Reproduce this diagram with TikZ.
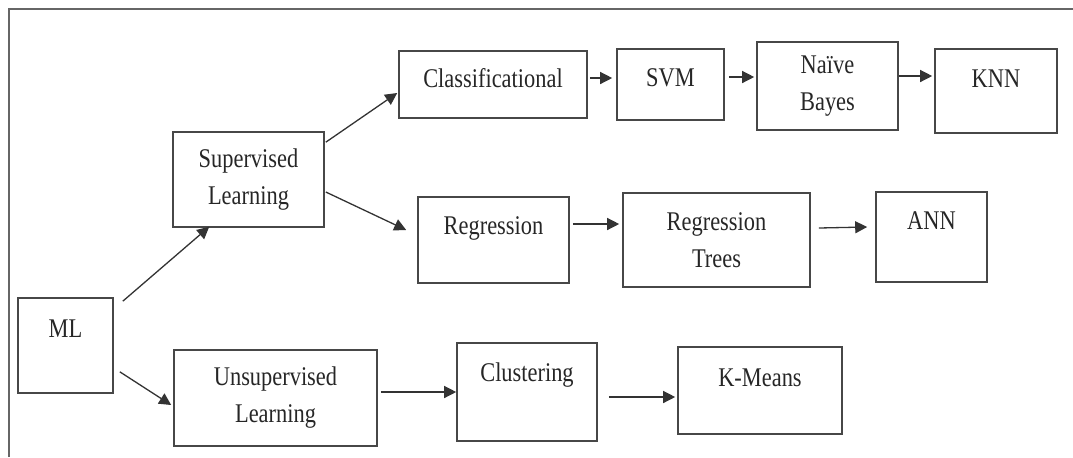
\documentclass[tikz,border=0pt]{standalone}
\usepackage{fontspec}
\setmainfont{Liberation Serif}[FakeStretch=0.83]
\usetikzlibrary{arrows.meta}
\tikzset{
	box/.style={draw=black!72, line width=0.8pt, align=center, inner sep=0pt, text=black!85, font=\fontsize{13.5}{18.5}\selectfont},
	toptext/.style={text height=9pt, text depth=#1pt},
	arr/.style={draw=black!80, line width=0.65pt, -{Triangle[length=6pt, width=6pt]}},
}

\begin{document}
\begin{tikzpicture}[x=0.5pt, y=-0.5pt]
			%%%%% START %%%%%
			\useasboundingbox (0, 0) rectangle (1073, 457);
			
			\draw[line width=1.2pt, color=black!60] (9, 457) -- (9, 9) -- (1073, 9);
			
			\node[box, minimum width=47.5pt, minimum height=47.5pt, toptext=17.5] (ml) at (65.5, 345.5) {ML};
			
			\node[box, minimum width=75.5pt, minimum height=47.5pt] (sup) at (248.5, 179.5) {Supervised\\Learning};
			\node[box, minimum width=101.5pt, minimum height=48pt] (unsup) at (275.5, 398) {Unsupervised\\Learning};
			
			\node[box, minimum width=94pt, minimum height=33.5pt, toptext=6.5] (cls) at (493, 84.5) {Classificational};
			\node[box, minimum width=53.5pt, minimum height=35.5pt, toptext=7.5] (svm) at (670.5, 84.5) {SVM};
			\node[box, minimum width=70.5pt, minimum height=44pt] (nb) at (827.5, 86) {Naïve\\Bayes};
			\node[box, minimum width=61pt, minimum height=42pt, toptext=13] (knn) at (996, 91) {KNN};
			
			\node[box, minimum width=75.5pt, minimum height=43pt, toptext=15] (reg) at (493.5, 240) {Regression};
			\node[box, minimum width=93.5pt, minimum height=47pt] (rt) at (716.5, 240) {Regression\\Trees};
			\node[box, minimum width=55.5pt, minimum height=45pt, toptext=17] (ann) at (931.5, 237) {ANN};
			
			\node[box, minimum width=70pt, minimum height=49pt, toptext=20] (clu) at (527, 392) {Clustering};
			\node[box, minimum width=82pt, minimum height=43.5pt, toptext=13.5] (km) at (760, 390.5) {K-Means};
			
			% from ML
			\draw[arr] ([shift={(9, 4)}]ml.north east) -- ([shift={(37, -1)}]sup.south west);
			\draw[arr] ([shift={(6, -22)}]ml.south east) -- ([shift={(-2, 7)}]unsup.west);
			
			% supervised branch
			\draw[arr] ([shift={(1, 11)}]sup.north east) -- ([shift={(-1, 8.5)}]cls.west);
			\draw[arr] ([shift={(1, 12.5)}]sup.east) -- ([shift={(-11, -10)}]reg.west);
			\draw[arr] ([shift={(2, -6.5)}]cls.east) -- ([shift={(-4, -6.5)}]svm.west);
			\draw[arr] ([shift={(4, -7.5)}]svm.east) -- ([shift={(-2, -9)}]nb.west);
			\draw[arr] ([shift={(0, -10)}]nb.east) -- ([shift={(-2, -15)}]knn.west);
			\draw[arr] ([shift={(3, -16)}]reg.east) -- ([shift={(-3, -16)}]rt.west);
			\draw[arr] ([shift={(8, -12)}]rt.east) -- ([shift={(-8, -10)}]ann.west);
			
			% unsupervised branch
			\draw[arr] ([shift={(3, -6)}]unsup.east) -- (clu.west);
			\draw[arr] ([shift={(11, 5)}]clu.east) -- ([shift={(-2, 6.5)}]km.west);
			%%%%% END %%%%%
\end{tikzpicture}
\end{document}
